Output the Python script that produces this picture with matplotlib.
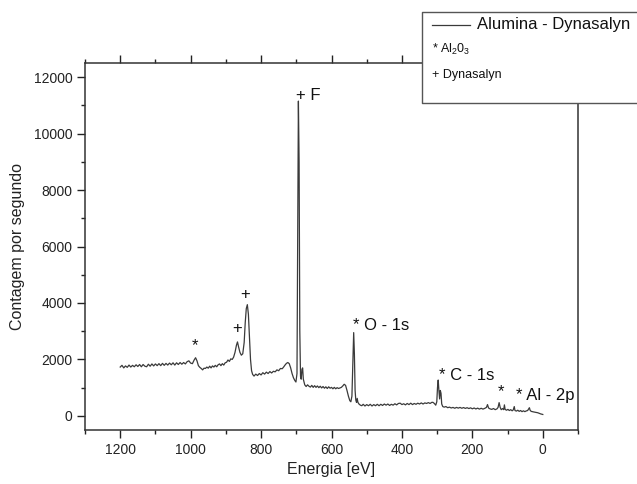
import matplotlib
matplotlib.use("Agg")
import matplotlib.pyplot as plt
from matplotlib.patches import Rectangle
from matplotlib.lines import Line2D
from matplotlib.ticker import MultipleLocator

plt.rcParams['font.family'] = ['Liberation Sans', 'DejaVu Sans']
plt.rcParams['mathtext.fontset'] = 'custom'
plt.rcParams['mathtext.rm'] = 'Liberation Sans'
plt.rcParams['mathtext.it'] = 'Liberation Sans:italic'

# ---- data: energy (eV) and counts per second ----
energy = [1200, 1195, 1190, 1185, 1180, 1175, 1170, 1165, 1160, 1155, 1150, 1145, 1140, 1135, 1130,
          1125, 1120, 1115, 1110, 1105, 1100, 1095, 1090, 1085, 1080, 1075, 1070, 1065, 1060, 1055,
          1050, 1045, 1040, 1035, 1030, 1025, 1020, 1015, 1010, 1005, 1000, 995, 990, 986, 982,
          978, 974, 970, 966, 962, 958, 954, 950, 946, 942, 938, 934, 930, 926, 922,
          918, 914, 910, 906, 902, 898, 894, 890, 886, 882, 878, 874, 870, 867, 864,
          860, 856, 852, 848, 845, 842, 839, 836, 833, 830, 827, 824, 820, 815, 810,
          805, 800, 795, 790, 785, 780, 775, 770, 765, 760, 755, 750, 745, 740, 736,
          732, 728, 724, 720, 716, 712, 708, 704, 701, 698, 696, 694, 692, 690, 688,
          686, 684, 682, 680, 676, 672, 668, 664, 660, 656, 652, 648, 644, 640, 636,
          632, 628, 624, 620, 616, 612, 608, 604, 600, 596, 592, 588, 584, 580, 576,
          572, 568, 564, 560, 556, 552, 548, 545, 542, 539, 537, 535, 533, 531, 529,
          527, 525, 522, 518, 514, 510, 505, 500, 495, 490, 485, 480, 475, 470, 465,
          460, 455, 450, 445, 440, 435, 430, 425, 420, 415, 410, 405, 400, 395, 390,
          385, 380, 375, 370, 365, 360, 355, 350, 345, 340, 335, 330, 325, 320, 315,
          312, 308, 304, 301, 299, 297, 295, 293, 291, 289, 287, 284, 280, 275, 270,
          265, 260, 255, 250, 245, 240, 235, 230, 225, 220, 215, 210, 205, 200, 195,
          190, 185, 180, 175, 170, 165, 160, 157, 154, 150, 145, 140, 135, 130, 127,
          124, 121, 118, 114, 111, 109, 107, 103, 99, 95, 91, 87, 84, 81, 79,
          75, 71, 67, 63, 59, 55, 51, 47, 43, 40, 38, 36, 33, 30, 26,
          22, 18, 14, 10, 6, 3, 0]
counts = [1730, 1790, 1700, 1770, 1720, 1800, 1730, 1790, 1740, 1810, 1750, 1820, 1740, 1820, 1760,
          1740, 1830, 1760, 1840, 1770, 1840, 1780, 1850, 1780, 1860, 1790, 1860, 1800, 1870, 1810,
          1880, 1800, 1880, 1820, 1890, 1830, 1890, 1840, 1920, 1950, 1870, 1850, 1980, 2060, 1950,
          1780, 1720, 1680, 1630, 1690, 1680, 1730, 1690, 1760, 1700, 1770, 1730, 1790, 1740, 1810,
          1840, 1780, 1850, 1800, 1880, 1900, 1980, 1930, 2020, 2000, 2080, 2250, 2500, 2620, 2450,
          2250, 2150, 2200, 2600, 3300, 3800, 3940, 3600, 2800, 2000, 1600, 1470, 1410, 1480, 1430,
          1500, 1450, 1530, 1480, 1550, 1500, 1570, 1520, 1580, 1560, 1630, 1600, 1680, 1670, 1730,
          1800, 1860, 1890, 1850, 1700, 1500, 1350, 1250, 1200, 1500, 6000, 11150, 9000, 3000, 1400,
          1300, 1650, 1700, 1300, 1100, 1040, 1100, 1050, 1020, 1080, 1010, 1070, 1010, 1060, 1000,
          1050, 990, 1040, 980, 1030, 970, 1030, 980, 1010, 960, 1010, 960, 1000, 970, 990,
          1010, 1060, 1120, 1080, 900, 700, 540, 500, 700, 2000, 2950, 2200, 900, 560, 480,
          620, 480, 420, 380, 360, 410, 350, 400, 360, 410, 350, 400, 360, 410, 360,
          410, 370, 420, 380, 420, 370, 410, 380, 430, 390, 440, 450, 400, 430, 390,
          440, 400, 450, 400, 440, 410, 450, 420, 460, 420, 460, 440, 470, 440, 480,
          480, 440, 380, 500, 1000, 1270, 900, 600, 900, 800, 420, 330, 310, 330, 290,
          310, 280, 300, 270, 300, 275, 300, 270, 295, 265, 290, 260, 285, 250, 280,
          245, 275, 240, 270, 240, 265, 300, 400, 280, 250, 230, 260, 220, 250, 300,
          470, 300, 220, 260, 220, 390, 230, 200, 230, 190, 220, 180, 210, 330, 190,
          170, 200, 160, 190, 150, 180, 150, 175, 190, 250, 290, 200, 160, 150, 140,
          130, 120, 110, 90, 70, 60, 50]

x_ticks = [1200, 1000, 800, 600, 400, 200, 0]
y_ticks = [0, 2000, 4000, 6000, 8000, 10000, 12000]

W, H = 637, 484
fig = plt.figure(figsize=(W / 100, H / 100), dpi=100)
ax = fig.add_axes([85 / W, 1 - 430 / H, (578 - 85) / W, (430 - 63) / H])

line_color = '#3a3a3a'
ax.plot(energy, counts, color=line_color, lw=0.9)

ax.set_xlim(1300, -100)
ax.set_ylim(-500, 12500)
ax.set_xticks(x_ticks)
ax.set_yticks(y_ticks)
ax.xaxis.set_minor_locator(MultipleLocator(100))
ax.yaxis.set_minor_locator(MultipleLocator(1000))
ax.tick_params(axis='both', which='major', direction='out', length=6, width=1.0,
               labelsize=10, colors='#222222', pad=3)
ax.tick_params(axis='both', which='minor', direction='out', length=3, width=1.0, colors='#222222')
ax.tick_params(axis='x', which='both', top=True, bottom=True, labeltop=False)
ax.tick_params(axis='y', which='both', left=True, right=False)
for s in ax.spines.values():
    s.set_linewidth(1.1)
    s.set_color('#333333')

ax.set_xlabel('Energia [eV]', fontsize=11.5, color='#222222', labelpad=4)
ax.set_ylabel('Contagem por segundo', fontsize=11.5, color='#222222', labelpad=6)

tc = '#111111'
ax.text(701, 11190, '+ F', fontsize=12, color=tc, ha='left', va='baseline')
ax.text(844, 4140, '+', fontsize=12, color=tc, ha='center', va='baseline')
ax.text(869, 2940, '+', fontsize=12, color=tc, ha='center', va='baseline')
ax.text(989, 2340, '*', fontsize=12, color=tc, ha='center', va='baseline')
ax.text(539, 3044, '* O - 1s', fontsize=12, color=tc, ha='left', va='baseline')
ax.text(296, 1274, '* C - 1s', fontsize=12, color=tc, ha='left', va='baseline')
ax.text(120, 710, '*', fontsize=12, color=tc, ha='center', va='baseline')
ax.text(77, 566, '* Al - 2p', fontsize=12, color=tc, ha='left', va='baseline')

# legend box (figure coordinates, runs off the right edge)
x0, x1 = 422 / W, 1.2
y0, y1 = 1 - 103 / H, 1 - 12 / H
box = Rectangle((x0, y0), x1 - x0, y1 - y0, transform=fig.transFigure,
                facecolor='white', edgecolor='none', zorder=10)
fig.patches.append(box)
fig.lines.append(Line2D([x1, x0, x0, x1], [y1, y1, y0, y0], transform=fig.transFigure,
                        color='#555555', lw=1.0, zorder=10.5))
fig.lines.append(Line2D([432 / W, 470 / W], [1 - 25 / H, 1 - 25 / H], transform=fig.transFigure,
                        color=line_color, lw=0.9, zorder=11))
fig.text(477 / W, 1 - 29 / H, 'Alumina - Dynasalyn', fontsize=12, color=tc, va='baseline', zorder=11)
fig.text(432 / W, 1 - 53 / H, r'* Al$_\mathrm{2}$0$_\mathrm{3}$', fontsize=9, color=tc, va='baseline', zorder=11)
fig.text(432 / W, 1 - 78 / H, '+ Dynasalyn', fontsize=9, color=tc, va='baseline', zorder=11)

fig.savefig('out.png', dpi=100)
